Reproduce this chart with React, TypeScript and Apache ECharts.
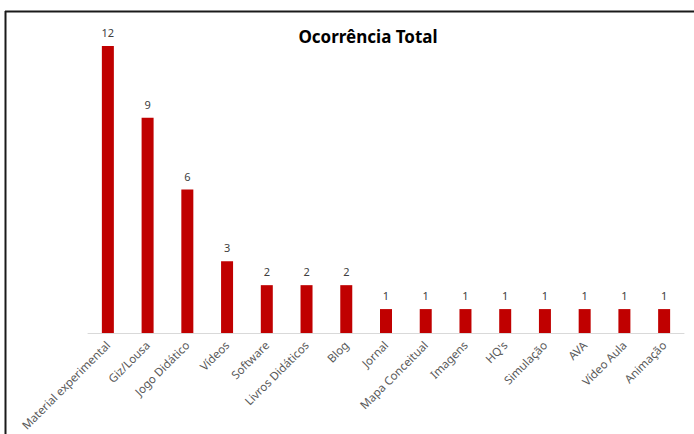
import React, { useEffect, useRef } from "react";
import * as echarts from "echarts";

const categories = [
  "Material experimental",
  "Giz/Lousa",
  "Jogo Didático",
  "Vídeos",
  "Software",
  "Livros Didáticos",
  "Blog",
  "Jornal",
  "Mapa Conceitual",
  "Imagens",
  "HQ's",
  "Simulação",
  "AVA",
  "Vídeo Aula",
  "Animação",
];
const values = [12, 9, 6, 3, 2, 2, 2, 1, 1, 1, 1, 1, 1, 1, 1];
const title = "Ocorrência Total";

export default function App() {
  const ref = useRef<HTMLDivElement>(null);
  useEffect(() => {
    document.body.style.margin = "0";
    const chart = echarts.init(ref.current!, null, { renderer: "svg" });
    chart.setOption({
      animation: false,
      backgroundColor: "#ffffff",
      title: {
        text: title,
        left: 363,
        textAlign: "center",
        top: 23,
        textStyle: {
          fontFamily: "Noto Sans",
          fontSize: 17,
          fontWeight: "bold",
          color: "#000000",
        },
      },
      graphic: [
        {
          type: "line",
          shape: { x1: 5, y1: 11.5, x2: 694, y2: 11.5 },
          style: { stroke: "#1a1a1a", lineWidth: 2 },
        },
        {
          type: "line",
          shape: { x1: 5.5, y1: 11, x2: 5.5, y2: 434 },
          style: { stroke: "#1a1a1a", lineWidth: 2 },
        },
      ],
      grid: { left: 88, right: 10, top: 46, bottom: 101, containLabel: false },
      xAxis: {
        type: "category",
        data: categories,
        axisLine: { lineStyle: { color: "#d9d9d9", width: 1 } },
        axisTick: { show: false },
        axisLabel: {
          interval: 0,
          rotate: 45,
          margin: 10,
          fontFamily: "Noto Sans",
          fontSize: 11.5,
          color: "#595959",
        },
      },
      yAxis: {
        type: "value",
        min: 0,
        max: 12,
        show: false,
        splitLine: { show: false },
      },
      series: [
        {
          type: "bar",
          data: values,
          barWidth: 12,
          itemStyle: { color: "#c00000" },
          label: {
            show: true,
            position: "top",
            distance: 8,
            fontFamily: "Noto Sans",
            fontSize: 11,
            color: "#404040",
          },
        },
      ],
    });
    return () => chart.dispose();
  }, []);
  return <div ref={ref} style={{ width: 694, height: 434 }} />;
}
